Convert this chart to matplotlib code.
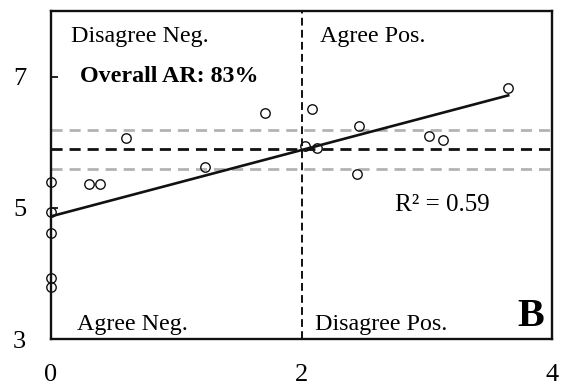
import matplotlib
matplotlib.use("Agg")
import matplotlib.pyplot as plt
import numpy as np

plt.rcParams['font.family'] = ['Liberation Serif', 'DejaVu Serif']
plt.rcParams['mathtext.fontset'] = 'stix'

x_vals = [0.0, 0.0, 0.0, 0.0, 0.0, 0.30, 0.39, 0.60, 1.23, 1.71, 2.08, 2.03,
          2.12, 2.46, 2.44, 3.02, 3.13, 3.65]
y_vals = [5.40, 4.94, 4.61, 3.93, 3.79, 5.37, 5.37, 6.07, 5.62, 6.44, 6.50, 5.94,
          5.91, 6.25, 5.51, 6.09, 6.03, 6.82]

fit_intercept = 4.87
fit_slope = 0.505
fit_x = [0.0, 3.65]

mean_y = 5.89
band = 0.30
split_x = 2.0

x_ticks = [0, 2, 4]
y_ticks = [3, 5, 7]

fig = plt.figure(figsize=(5.63, 3.87), dpi=100)
ax = fig.add_axes([0.0906, 0.124, 0.8899, 0.8476])
ax.set_xlim(0, 4)
ax.set_ylim(3, 8)

ax.axhline(mean_y + band, color='#b3b3b3', lw=2.0, dashes=(4, 2.5), zorder=1)
ax.axhline(mean_y - band, color='#b3b3b3', lw=2.0, dashes=(4, 2.5), zorder=1)
ax.axhline(mean_y, color='#111111', lw=2.0, dashes=(4, 2.5), zorder=2)
ax.axvline(split_x, color='#111111', lw=1.4, dashes=(4, 2.2), zorder=2)

fx = np.array(fit_x)
ax.plot(fx, fit_intercept + fit_slope * fx, color='#111111', lw=1.9, zorder=3)

ax.plot(x_vals, y_vals, linestyle='none', marker='o', markersize=6.8,
        markerfacecolor='none', markeredgecolor='#111111', markeredgewidth=1.0,
        zorder=4, clip_on=False)

for s in ax.spines.values():
    s.set_linewidth(1.7)
    s.set_color('#111111')

ax.set_xticks(x_ticks)
ax.set_yticks(y_ticks)
ax.tick_params(axis='y', direction='in', length=5, width=1.2, pad=18, labelsize=19)
ax.tick_params(axis='x', direction='in', length=0, pad=18, labelsize=19)

fs = 17.3
ax.text(0.04, 0.955, 'Disagree Neg.', transform=ax.transAxes, fontsize=fs,
        ha='left', va='top')
ax.text(0.537, 0.955, 'Agree Pos.', transform=ax.transAxes, fontsize=fs,
        ha='left', va='top')
ax.text(0.058, 0.80, 'Overall AR: 83%', transform=ax.transAxes, fontsize=fs,
        fontweight='bold', ha='left', va='center')
ax.text(0.686, 0.41, 'R² = 0.59', transform=ax.transAxes, fontsize=18,
        ha='left', va='center')
ax.text(0.052, 0.012, 'Agree Neg.', transform=ax.transAxes, fontsize=fs,
        ha='left', va='bottom')
ax.text(0.527, 0.012, 'Disagree Pos.', transform=ax.transAxes, fontsize=fs,
        ha='left', va='bottom')
ax.text(0.985, 0.012, 'B', transform=ax.transAxes, fontsize=29,
        fontweight='bold', ha='right', va='bottom')

fig.savefig('out.png', dpi=100)
